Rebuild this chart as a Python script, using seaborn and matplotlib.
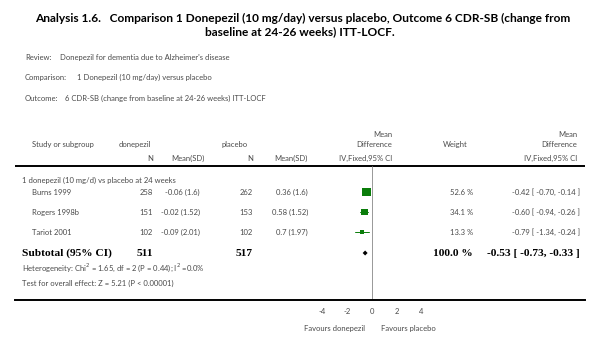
import matplotlib
matplotlib.use("Agg")
import matplotlib.pyplot as plt
import seaborn as sns
import pandas as pd
import numpy as np

sns.set_theme(style="white")
plt.rcParams['font.family'] = ['Lato', 'DejaVu Sans']

# ---- data ----
studies = ["Burns 1999", "Rogers 1998b", "Tariot 2001"]
n_done = [258, 151, 102]
mean_done = ["-0.06 (1.6)", "-0.02 (1.52)", "-0.09 (2.01)"]
n_plac = [262, 153, 102]
mean_plac = ["0.36 (1.6)", "0.58 (1.52)", "0.7 (1.97)"]
weights = [52.6, 34.1, 13.3]
md = [-0.42, -0.60, -0.79]
ci_lo = [-0.70, -0.94, -1.34]
ci_hi = [-0.14, -0.26, -0.24]
sub_n_done = 511
sub_n_plac = 517
sub_weight = 100.0
sub_md, sub_lo, sub_hi = -0.53, -0.73, -0.33
xticks = [-4, -2, 0, 2, 4]

GRAY = "#4a4a4a"
GREEN = "#0a7d0a"
W, H = 600, 347

fig = plt.figure(figsize=(6, 3.47), dpi=100)
fig.patch.set_facecolor("white")

# text layer in pixel coordinates
tx = fig.add_axes([0, 0, 1, 1])
tx.set_xlim(0, W)
tx.set_ylim(H, 0)
tx.axis("off")

# title
tx.text(303, 18, "Analysis 1.6.   Comparison 1 Donepezil (10 mg/day) versus placebo, Outcome 6 CDR-SB (change from",
        ha="center", va="center", fontsize=8.6, fontweight="bold", color="black")
tx.text(300, 32, "baseline at 24-26 weeks) ITT-LOCF.",
        ha="center", va="center", fontsize=8.6, fontweight="bold", color="black")

sm = 5.5
tx.text(25, 57, "Review:", ha="left", va="center", fontsize=sm, color=GRAY)
tx.text(60, 57, "Donepezil for dementia due to Alzheimer's disease", ha="left", va="center", fontsize=sm, color=GRAY)
tx.text(25, 77, "Comparison:", ha="left", va="center", fontsize=sm, color=GRAY)
tx.text(77, 77, "1 Donepezil (10 mg/day) versus placebo", ha="left", va="center", fontsize=sm, color=GRAY)
tx.text(25, 98, "Outcome:", ha="left", va="center", fontsize=sm, color=GRAY)
tx.text(65, 98, "6 CDR-SB (change from baseline at 24-26 weeks) ITT-LOCF", ha="left", va="center", fontsize=sm, color=GRAY)

# header
tx.text(32, 144, "Study or subgroup", ha="left", va="center", fontsize=sm, color=GRAY)
tx.text(135, 144, "donepezil", ha="center", va="center", fontsize=sm, color=GRAY)
tx.text(153, 158, "N", ha="right", va="center", fontsize=sm, color=GRAY)
tx.text(205, 158, "Mean(SD)", ha="right", va="center", fontsize=sm, color=GRAY)
tx.text(235, 144, "placebo", ha="center", va="center", fontsize=sm, color=GRAY)
tx.text(253, 158, "N", ha="right", va="center", fontsize=sm, color=GRAY)
tx.text(308, 158, "Mean(SD)", ha="right", va="center", fontsize=sm, color=GRAY)
tx.text(392, 134, "Mean", ha="right", va="center", fontsize=sm, color=GRAY)
tx.text(392, 144, "Difference", ha="right", va="center", fontsize=sm, color=GRAY)
tx.text(392, 158, "IV,Fixed,95% CI", ha="right", va="center", fontsize=sm, color=GRAY)
tx.text(455, 144, "Weight", ha="center", va="center", fontsize=sm, color=GRAY)
tx.text(577, 134, "Mean", ha="right", va="center", fontsize=sm, color=GRAY)
tx.text(577, 144, "Difference", ha="right", va="center", fontsize=sm, color=GRAY)
tx.text(577, 158, "IV,Fixed,95% CI", ha="right", va="center", fontsize=sm, color=GRAY)
tx.plot([15, 585], [165.5, 165.5], color="black", lw=1.4, solid_capstyle="butt")

# subgroup header
tx.text(22, 180, "1 donepezil (10 mg/d) vs placebo at 24 weeks", ha="left", va="center", fontsize=sm, color=GRAY)

row_y = [192, 212, 232]
for i, y in enumerate(row_y):
    tx.text(32, y, studies[i], ha="left", va="center", fontsize=sm, color=GRAY)
    tx.text(153, y, str(n_done[i]), ha="right", va="center", fontsize=sm, color=GRAY)
    tx.text(200, y, mean_done[i], ha="right", va="center", fontsize=sm, color=GRAY)
    tx.text(253, y, str(n_plac[i]), ha="right", va="center", fontsize=sm, color=GRAY)
    tx.text(308, y, mean_plac[i], ha="right", va="center", fontsize=sm, color=GRAY)
    tx.text(473, y, f"{weights[i]:.1f} %", ha="right", va="center", fontsize=sm, color=GRAY)
    tx.text(580, y, f"{md[i]:.2f} [ {ci_lo[i]:.2f}, {ci_hi[i]:.2f} ]", ha="right", va="center", fontsize=sm, color=GRAY)

serif = dict(family=["Liberation Serif", "DejaVu Serif"], fontweight="bold", fontsize=8.2, color="black")
sub_y = 253
tx.text(22, sub_y, "Subtotal (95% CI)", ha="left", va="center", **serif)
tx.text(153, sub_y, str(sub_n_done), ha="right", va="center", **serif)
tx.text(253, sub_y, str(sub_n_plac), ha="right", va="center", **serif)
tx.text(473, sub_y, f"{sub_weight:.1f} %", ha="right", va="center", **serif)
tx.text(580, sub_y, f"{sub_md:.2f} [ {sub_lo:.2f}, {sub_hi:.2f} ]", ha="right", va="center", **serif)

tx.text(22, 268, "Heterogeneity: Chi$^{2}$ = 1.65, df = 2 (P = 0.44); I$^{2}$ =0.0%", ha="left", va="center", fontsize=sm, color=GRAY)
tx.text(22, 283, "Test for overall effect: Z = 5.21 (P < 0.00001)", ha="left", va="center", fontsize=sm, color=GRAY)

tx.text(335, 328, "Favours donepezil", ha="center", va="center", fontsize=sm, color=GRAY)
tx.text(408, 328, "Favours placebo", ha="center", va="center", fontsize=sm, color=GRAY)

# forest axes: x in MD units, y in pixels
x0_px, ppu = 371.7, 12.4
left_px, right_px, top_px, bot_px = 15, 585, 165.5, 300
fa = fig.add_axes([left_px / W, 1 - bot_px / H, (right_px - left_px) / W, (bot_px - top_px) / H])
fa.set_facecolor("none")
fa.set_xlim((left_px - x0_px) / ppu, (right_px - x0_px) / ppu)
fa.set_ylim(bot_px, top_px)
for s in ["top", "left", "right"]:
    fa.spines[s].set_visible(False)
fa.spines["bottom"].set_color("black")
fa.spines["bottom"].set_linewidth(1.4)
fa.set_yticks([])
fa.set_xticks(xticks)
fa.set_xticklabels([str(t) for t in xticks])
fa.tick_params(axis="x", direction="in", length=3, width=0.8, color="black", labelsize=5.5, labelcolor=GRAY, pad=6)
fa.axvline(0, color="#888888", lw=0.6)

df = pd.DataFrame({"md": md, "y": row_y, "w": weights, "lo": ci_lo, "hi": ci_hi})
for _, r in df.iterrows():
    fa.plot([r["lo"], r["hi"]], [r["y"], r["y"]], color=GREEN, lw=0.7)
sns.scatterplot(data=df, x="md", y="y", size="w", sizes=(10, 38), size_norm=(13.3, 52.6),
                marker="s", color=GREEN, edgecolor=GREEN, linewidth=0, legend=False, ax=fa)
fa.set_xlabel("")
fa.set_ylabel("")
fa.fill([sub_lo, sub_md, sub_hi, sub_md], [sub_y, sub_y - 2.5, sub_y, sub_y + 2.5], color="black", lw=0)

fig.savefig("out.png", dpi=100, facecolor="white")
